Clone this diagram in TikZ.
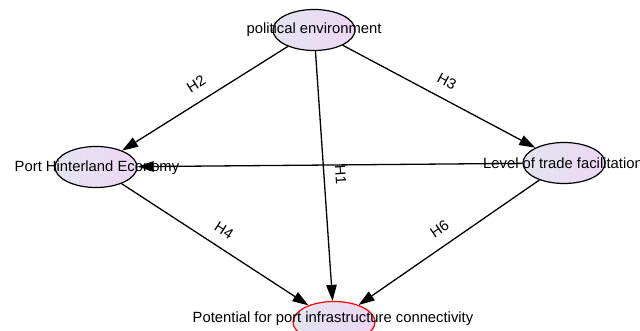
\documentclass[tikz,border=0pt]{standalone}
\usepackage{fontspec}
\setmainfont{Liberation Sans}
\usetikzlibrary{arrows.meta,shapes.geometric}
\definecolor{ellL}{RGB}{226,229,240}
\definecolor{ellR}{RGB}{237,214,244}
\begin{document}
\begin{tikzpicture}[x=1pt,y=-1pt,
  ell/.style={ellipse, draw=black, line width=1.2pt, minimum width=82pt, minimum height=41pt, inner sep=0pt, left color=ellL, right color=ellR},
  lbl/.style={font=\fontsize{14.8}{17}\selectfont, inner sep=0pt},
  arr/.style={line width=1.3pt, -{Triangle[length=16pt,width=10.5pt]}},
  hyp/.style={font=\fontsize{14.8}{17}\selectfont, sloped, above=9pt, inner sep=2pt}
]
\fill[white] (0,0) rectangle (640,331);
\useasboundingbox (0,0) rectangle (640,331);
% ellipses
\node[ell] (pe) at (314,30) {};
\node[ell] (phe) at (96,167) {};
\node[ell] (ltf) at (564,163) {};
\node[ell, draw=red] (ppc) at (334,322) {};
% texts
\node[lbl] (tpe) at (314,30) {political environment};
\node[lbl] (tphe) at (97,168) {Port Hinterland Economy};
\node[lbl] (tltf) at (563,163) {Level of trade facilitation};
\node[lbl] (tppc) at (333,319) {Potential for port infrastructure connectivity};
% connectors
\draw[arr] (pe) -- node[hyp]{H2} (phe);
\draw[arr] (pe) -- node[hyp]{H3} (ltf);
\draw[arr] (pe) -- node[hyp]{H1} (ppc);
\draw[arr] (ltf) -- (phe);
\draw[arr] (phe) -- node[hyp]{H4} (ppc);
\draw[arr] (ltf) -- node[hyp]{H6} (ppc);
\end{tikzpicture}
\end{document}
